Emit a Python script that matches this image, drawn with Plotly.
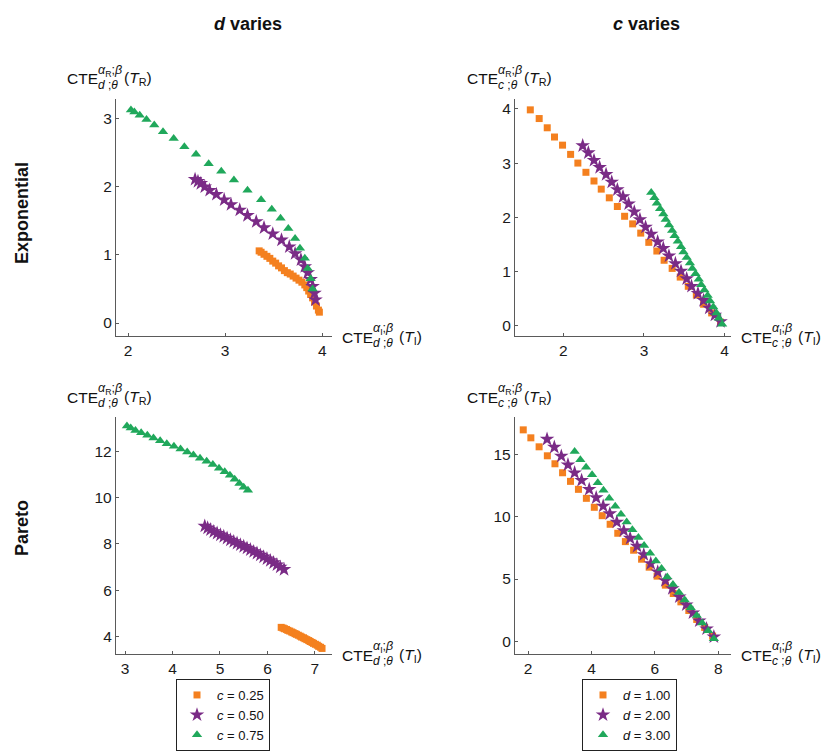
import plotly.graph_objects as go
from plotly.subplots import make_subplots

W, H = 827, 751

# ---------------- data ----------------
# Exponential, d varies (x = CTE_I, y = CTE_R)
exp_d_c025_x = [3.35, 3.37, 3.40, 3.43, 3.46, 3.49, 3.52, 3.55, 3.58, 3.61, 3.64, 3.67, 3.70,
                3.73, 3.76, 3.79, 3.82, 3.84, 3.86, 3.88, 3.90, 3.92, 3.94, 3.96, 3.97]
exp_d_c025_y = [1.06, 1.04, 1.01, 0.98, 0.95, 0.91, 0.88, 0.84, 0.81, 0.77, 0.74, 0.72, 0.69,
                0.66, 0.63, 0.60, 0.56, 0.52, 0.47, 0.42, 0.37, 0.31, 0.25, 0.19, 0.16]
exp_d_c050_x = [2.69, 2.72, 2.75, 2.79, 2.84, 2.91, 2.99, 3.06, 3.15, 3.23, 3.32, 3.40, 3.49,
                3.58, 3.66, 3.72, 3.78, 3.82, 3.85, 3.88, 3.90, 3.92, 3.93]
exp_d_c050_y = [2.11, 2.08, 2.05, 2.00, 1.95, 1.89, 1.81, 1.74, 1.66, 1.58, 1.49, 1.40, 1.31,
                1.22, 1.12, 1.02, 0.93, 0.83, 0.74, 0.64, 0.54, 0.44, 0.34]
exp_d_c075_x = [2.03, 2.065, 2.12, 2.19, 2.27, 2.36, 2.47, 2.58, 2.70, 2.83, 2.96, 3.09, 3.23,
                3.37, 3.48, 3.57, 3.65, 3.72, 3.77, 3.82, 3.85, 3.88, 3.90]
exp_d_c075_y = [3.13, 3.10, 3.05, 2.99, 2.91, 2.81, 2.71, 2.59, 2.48, 2.34, 2.23, 2.10, 1.95,
                1.81, 1.67, 1.54, 1.39, 1.24, 1.10, 0.95, 0.80, 0.65, 0.50]

# Exponential, c varies
exp_c_d1_x = [1.59, 1.70, 1.80, 1.89, 1.99, 2.09, 2.18, 2.28, 2.38, 2.47, 2.57, 2.67, 2.76,
              2.86, 2.96, 3.06, 3.16, 3.25, 3.35, 3.45, 3.55, 3.65, 3.74, 3.84, 3.95]
exp_c_d1_y = [3.98, 3.82, 3.65, 3.48, 3.33, 3.16, 3.00, 2.83, 2.67, 2.52, 2.36, 2.20, 2.02,
              1.88, 1.71, 1.54, 1.38, 1.21, 1.06, 0.90, 0.73, 0.57, 0.40, 0.24, 0.07]
exp_c_d2_x = [2.24, 2.31, 2.38, 2.45, 2.53, 2.60, 2.67, 2.74, 2.81, 2.88, 2.95, 3.02, 3.09,
              3.17, 3.24, 3.31, 3.39, 3.46, 3.53, 3.59, 3.67, 3.74, 3.81, 3.88, 3.95]
exp_c_d2_y = [3.32, 3.19, 3.05, 2.92, 2.79, 2.65, 2.51, 2.38, 2.25, 2.10, 1.96, 1.82, 1.69,
              1.55, 1.43, 1.29, 1.15, 1.01, 0.87, 0.73, 0.60, 0.47, 0.33, 0.20, 0.08]
exp_c_d3_x = [3.09, 3.13, 3.16, 3.20, 3.24, 3.27, 3.31, 3.35, 3.38, 3.42, 3.46, 3.49, 3.53,
              3.57, 3.60, 3.64, 3.68, 3.71, 3.75, 3.79, 3.82, 3.86, 3.90, 3.93, 3.97]
exp_c_d3_y = [2.46, 2.36, 2.26, 2.16, 2.06, 1.96, 1.86, 1.76, 1.66, 1.56, 1.46, 1.36, 1.26,
              1.16, 1.06, 0.96, 0.86, 0.76, 0.66, 0.56, 0.46, 0.35, 0.24, 0.14, 0.03]

# Pareto, d varies
par_d_c025_x = [6.29, 6.33, 6.36, 6.40, 6.43, 6.47, 6.51, 6.54, 6.58, 6.61, 6.65, 6.69, 6.72,
                6.76, 6.79, 6.83, 6.87, 6.90, 6.94, 6.97, 7.01, 7.05, 7.08, 7.12, 7.15]
par_d_c025_y = [4.40, 4.37, 4.34, 4.31, 4.27, 4.24, 4.20, 4.17, 4.13, 4.10, 4.06, 4.02, 3.98,
                3.95, 3.91, 3.87, 3.83, 3.79, 3.75, 3.71, 3.67, 3.63, 3.58, 3.54, 3.49]
par_d_c050_x = [4.68, 4.74, 4.80, 4.87, 4.94, 5.01, 5.08, 5.15, 5.22, 5.29, 5.36, 5.43, 5.50,
                5.57, 5.64, 5.71, 5.78, 5.85, 5.92, 5.99, 6.06, 6.13, 6.20, 6.27, 6.35]
par_d_c050_y = [8.77, 8.69, 8.61, 8.53, 8.46, 8.39, 8.32, 8.25, 8.17, 8.10, 8.03, 7.96, 7.89,
                7.82, 7.75, 7.67, 7.60, 7.52, 7.44, 7.36, 7.28, 7.19, 7.10, 7.00, 6.90]
par_d_c075_x = [3.04, 3.12, 3.22, 3.34, 3.47, 3.60, 3.74, 3.88, 4.03, 4.17, 4.31, 4.44, 4.58,
                4.72, 4.85, 4.98, 5.10, 5.21, 5.31, 5.41, 5.50, 5.59]
par_d_c075_y = [13.09, 13.00, 12.90, 12.80, 12.69, 12.57, 12.46, 12.33, 12.22, 12.10, 11.97,
                11.84, 11.70, 11.57, 11.43, 11.27, 11.12, 10.97, 10.79, 10.61, 10.45, 10.32]

# Pareto, c varies
par_c_d1_x = [1.85, 2.09, 2.35, 2.61, 2.85, 3.09, 3.34, 3.59, 3.84, 4.09, 4.34, 4.59, 4.83,
              5.07, 5.33, 5.58, 5.82, 6.07, 6.33, 6.58, 6.82, 7.07, 7.32, 7.57, 7.82]
par_c_d1_y = [16.96, 16.32, 15.60, 14.88, 14.24, 13.52, 12.83, 12.19, 11.47, 10.75, 10.08,
              9.39, 8.67, 8.00, 7.31, 6.59, 5.95, 5.23, 4.51, 3.84, 3.17, 2.48, 1.76, 1.12, 0.43]
par_c_d2_x = [2.60, 2.83, 3.05, 3.26, 3.47, 3.69, 3.93, 4.15, 4.37, 4.58, 4.80, 5.02, 5.22,
              5.44, 5.65, 5.87, 6.09, 6.33, 6.55, 6.77, 6.99, 7.20, 7.40, 7.63, 7.86]
par_c_d2_y = [16.21, 15.57, 14.85, 14.16, 13.52, 12.91, 12.19, 11.52, 10.85, 10.24, 9.57,
              8.88, 8.27, 7.63, 6.96, 6.24, 5.57, 4.88, 4.24, 3.57, 2.93, 2.29, 1.65, 1.01, 0.37]
par_c_d3_x = [3.47, 3.65, 3.83, 4.02, 4.20, 4.38, 4.56, 4.75, 4.93, 5.11, 5.29, 5.48, 5.66,
              5.85, 6.03, 6.21, 6.39, 6.57, 6.76, 6.94, 7.13, 7.32, 7.49, 7.68, 7.86]
par_c_d3_y = [15.23, 14.56, 13.97, 13.36, 12.72, 12.11, 11.47, 10.83, 10.19, 9.57, 8.96,
              8.32, 7.68, 7.07, 6.45, 5.84, 5.17, 4.56, 3.92, 3.31, 2.69, 2.08, 1.47, 0.85, 0.21]

left_names = ["<i>c</i> = 0.25", "<i>c</i> = 0.50", "<i>c</i> = 0.75"]
right_names = ["<i>d</i> = 1.00", "<i>d</i> = 2.00", "<i>d</i> = 3.00"]
col_titles = ["<b><i>d</i> varies</b>", "<b><i>c</i> varies</b>"]
row_titles = ["<b>Exponential</b>", "<b>Pareto</b>"]

# ---------------- style ----------------
ORANGE = "#F4801F"
PURPLE = "#7A2B86"
GREEN = "#20A85B"
COLORS = [ORANGE, PURPLE, GREEN]
SYMBOLS = ["square", "star", "triangle-up"]
SIZES = [7, 11, 9]
FONT = "Liberation Sans, Arial, Helvetica, sans-serif"

fig = make_subplots(rows=2, cols=2)

panels = [
    (1, 1, [(exp_d_c025_x, exp_d_c025_y), (exp_d_c050_x, exp_d_c050_y), (exp_d_c075_x, exp_d_c075_y)], left_names, "legend"),
    (1, 2, [(exp_c_d1_x, exp_c_d1_y), (exp_c_d2_x, exp_c_d2_y), (exp_c_d3_x, exp_c_d3_y)], right_names, "legend2"),
    (2, 1, [(par_d_c025_x, par_d_c025_y), (par_d_c050_x, par_d_c050_y), (par_d_c075_x, par_d_c075_y)], left_names, "legend"),
    (2, 2, [(par_c_d1_x, par_c_d1_y), (par_c_d2_x, par_c_d2_y), (par_c_d3_x, par_c_d3_y)], right_names, "legend2"),
]

for r, c, series, names, leg in panels:
    for i, (xs, ys) in enumerate(series):
        fig.add_trace(
            go.Scatter(
                x=xs, y=ys, mode="markers", name=names[i],
                marker=dict(symbol=SYMBOLS[i], size=SIZES[i], color=COLORS[i], line=dict(width=0)),
                legend=leg, showlegend=(r == 1),
            ),
            row=r, col=c,
        )

# pixel-based domains
def xd(a, b):
    return [a / W, b / W]

def yd(top, bottom):
    return [1 - bottom / H, 1 - top / H]

dom = {
    (1, 1): (xd(116, 332), yd(99, 336), [1.876, 4.10], [-0.19, 3.29], 1, 1),
    (1, 2): (xd(515, 731), yd(99, 336), [1.40, 4.08], [-0.185, 4.18], 1, 1),
    (2, 1): (xd(116, 332), yd(417, 654), [2.81, 7.36], [3.25, 13.48], 1, 2),
    (2, 2): (xd(515, 731), yd(417, 654), [1.59, 8.40], [-1.01, 17.99], 2, 5),
}

axis_common = dict(
    showline=True, linecolor="#5a5a5a", linewidth=1.3, showgrid=False, zeroline=False,
    ticks="inside", ticklen=3, tickwidth=1, tickcolor="#5a5a5a",
    tickfont=dict(family=FONT, size=15.5, color="#1a1a1a"), mirror=False,
)
for (r, c), (xdom, ydom, xr, yr, dx, dy) in dom.items():
    fig.update_xaxes(domain=xdom, range=xr, dtick=dx, tick0=0, row=r, col=c, **axis_common)
    fig.update_yaxes(domain=ydom, range=yr, dtick=dy, tick0=0, row=r, col=c, **axis_common)

annotations = []

def P(xp, yp):
    return xp / W, 1 - yp / H

def add_text(text, xp, yp, size, xanchor="left", yanchor="middle", angle=0):
    x, y = P(xp, yp)
    annotations.append(dict(
        text=text, x=x, y=y, xref="paper", yref="paper", showarrow=False,
        xanchor=xanchor, yanchor=yanchor, textangle=angle, borderpad=0, borderwidth=0,
        font=dict(family=FONT, size=size, color="#111111"),
    ))

def cte_label(xp, yp, lower, upper):
    add_text("CTE", xp, yp, 15.5)
    add_text(f"<i>α</i><sub>{upper}</sub>;<i>β</i>", xp + 31, yp - 8, 12.5)
    add_text(f"<i>{lower}</i> ;<i>θ</i>", xp + 31, yp + 6, 12)
    add_text(f"(<i>T</i><sub>{upper}</sub>)", xp + 57, yp, 15.5)

# axis labels
cte_label(67, 79, "d", "R")
cte_label(342, 337, "d", "I")
cte_label(467, 79, "c", "R")
cte_label(741, 337, "c", "I")
cte_label(67, 397, "d", "R")
cte_label(342, 655, "d", "I")
cte_label(467, 397, "c", "R")
cte_label(741, 655, "c", "I")

# column and row titles
add_text(col_titles[0], 248, 24, 18, xanchor="center")
add_text(col_titles[1], 646, 24, 18, xanchor="center")
add_text(row_titles[0], 22, 213, 18, xanchor="center", angle=-90)
add_text(row_titles[1], 22, 528, 18, xanchor="center", angle=-90)

# legends kept fully inside the page so they do not push the margins
legend_common = dict(
    bordercolor="#222222", borderwidth=1, bgcolor="white",
    font=dict(family=FONT, size=13, color="#111111"),
    xanchor="left", yanchor="bottom", tracegroupgap=0, itemwidth=30,
)

fig.update_layout(
    width=W, height=H,
    margin=dict(l=0, r=0, t=0, b=0, autoexpand=False),
    plot_bgcolor="white", paper_bgcolor="white",
    annotations=annotations,
    legend=dict(x=176 / W, y=0.0, **legend_common),
    legend2=dict(x=582 / W, y=0.0, **legend_common),
)

fig.write_html("out.html", config={"displayModeBar": False},
               post_script="document.body.style.margin='0px';")
